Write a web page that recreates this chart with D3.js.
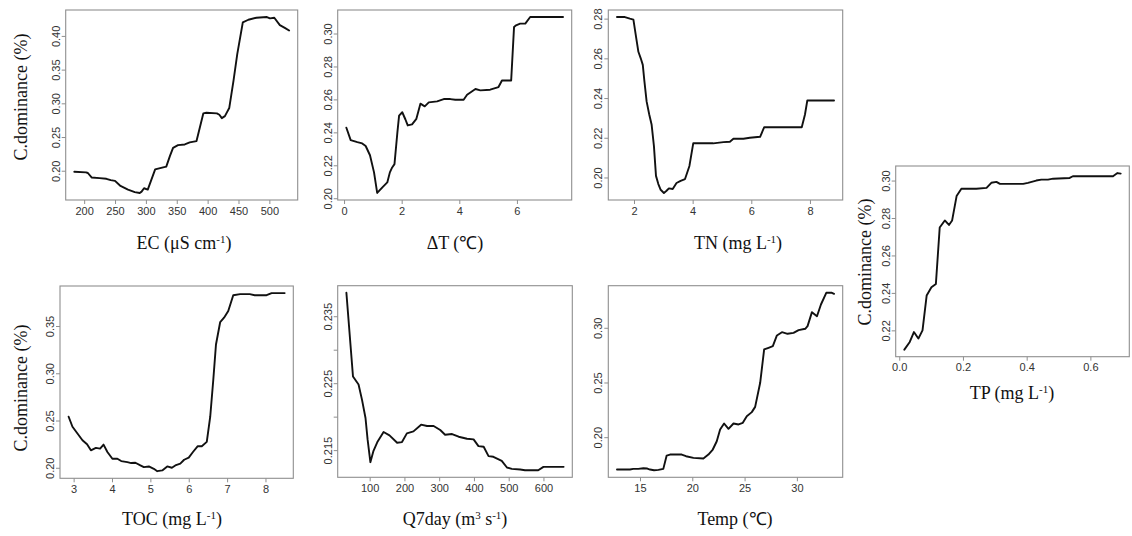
<!DOCTYPE html>
<html>
<head>
<meta charset="utf-8">
<script src="https://cdn.jsdelivr.net/npm/d3@7/dist/d3.min.js"></script>
<style>
  html, body { margin: 0; padding: 0; background: #fff; }
  svg { display: block; }
</style>
</head>
<body>
<svg id="chart" width="1132" height="536"></svg>
<script>
// ---------------- DATA ----------------
const ecX = [184,203,206,212,225,236,243,250,258,271,282,290,293,297,303,315,328,333,339,344,352,363,371,382,393,398,415,419,423,428,435,442,448,457,466,479,496,501,508,517,525,532];
const ecY = [0.1985,0.1976,0.1966,0.190,0.189,0.188,0.186,0.185,0.178,0.172,0.1683,0.167,0.169,0.174,0.172,0.202,0.205,0.206,0.222,0.234,0.238,0.239,0.242,0.244,0.285,0.286,0.285,0.283,0.278,0.281,0.293,0.334,0.373,0.420,0.424,0.427,0.428,0.426,0.427,0.416,0.412,0.408];

const dtX = [0.08,0.23,0.46,0.63,0.75,0.90,1.04,1.15,1.33,1.50,1.59,1.67,1.75,1.85,1.91,2.02,2.13,2.21,2.36,2.51,2.65,2.80,2.94,3.23,3.46,3.69,3.86,4.15,4.27,4.56,4.73,5.07,5.36,5.48,5.80,5.90,5.97,6.11,6.29,6.46,7.60];
const dtY = [0.2428,0.2353,0.2341,0.2333,0.2317,0.2261,0.2157,0.2032,0.2066,0.2096,0.2157,0.2187,0.2207,0.2398,0.2502,0.2522,0.2478,0.2442,0.2448,0.2482,0.2574,0.2558,0.2582,0.2588,0.2602,0.2602,0.2598,0.2598,0.2628,0.2663,0.2655,0.2659,0.2675,0.2715,0.2715,0.304,0.305,0.306,0.306,0.31,0.31];

const tnX = [1.42,1.69,1.86,1.98,2.07,2.15,2.23,2.30,2.35,2.43,2.52,2.60,2.68,2.75,2.83,2.91,3.02,3.11,3.19,3.32,3.45,3.59,3.74,3.89,4.02,4.25,4.70,5.05,5.27,5.39,5.73,5.95,6.30,6.44,6.86,7.72,7.83,7.91,8.23,8.82];
const tnY = [0.2808,0.2808,0.28,0.2795,0.2708,0.2633,0.26,0.2567,0.2492,0.2383,0.2317,0.2267,0.2158,0.2008,0.1967,0.1938,0.1922,0.1933,0.1945,0.1942,0.1972,0.1983,0.1992,0.2058,0.2172,0.2172,0.2172,0.2178,0.2180,0.2195,0.2195,0.22,0.2205,0.2253,0.2253,0.2253,0.2317,0.2388,0.2388,0.2388];

const tocX = [2.87,2.97,3.10,3.23,3.35,3.45,3.58,3.69,3.78,3.88,4.01,4.14,4.24,4.40,4.50,4.61,4.74,4.83,4.96,5.09,5.18,5.31,5.44,5.56,5.65,5.78,5.88,6.00,6.11,6.23,6.34,6.47,6.56,6.64,6.71,6.82,6.92,7.03,7.16,7.34,7.59,7.72,8.03,8.16,8.50];
const tocY = [0.254,0.2434,0.2362,0.2291,0.2249,0.2185,0.221,0.2203,0.2245,0.2167,0.2096,0.2096,0.2071,0.206,0.205,0.2053,0.2025,0.2007,0.2014,0.1989,0.1964,0.1972,0.2014,0.20,0.2025,0.2043,0.2085,0.2107,0.2167,0.2227,0.2227,0.2274,0.254,0.2931,0.3304,0.3542,0.3588,0.3659,0.3826,0.3837,0.3837,0.3826,0.3826,0.3848,0.3848];

const q7X = [33,52,68,78,88,94,102,111,123,140,157,179,193,207,226,248,265,284,303,317,337,356,380,399,413,428,442,456,480,495,509,533,547,562,585,600,658];
const q7Y = [0.2385,0.226,0.2248,0.2225,0.2198,0.2166,0.2132,0.2149,0.2163,0.2177,0.2172,0.2161,0.2162,0.2175,0.2178,0.2188,0.2186,0.2186,0.218,0.2173,0.2174,0.217,0.2167,0.2166,0.2156,0.2155,0.2141,0.214,0.2134,0.2124,0.2122,0.2121,0.212,0.212,0.212,0.2125,0.2125];

const tempX = [12.8,14.04,14.36,14.84,15.32,15.70,15.96,16.34,16.76,17.23,17.55,17.87,18.99,19.40,20.11,21.06,21.54,21.96,22.34,22.66,23.04,23.46,23.94,24.42,24.83,25.21,25.69,26.01,26.49,26.87,27.29,27.70,28.09,28.57,29.11,29.68,30.16,30.80,31.02,31.44,31.92,32.30,32.81,33.35,33.55];
const tempY = [0.1704,0.1704,0.171,0.171,0.1716,0.1713,0.1704,0.1698,0.1701,0.171,0.1832,0.1841,0.1841,0.1826,0.1811,0.1805,0.1841,0.1887,0.1963,0.207,0.2125,0.2076,0.2125,0.2116,0.2131,0.2192,0.2229,0.2277,0.2497,0.2802,0.2817,0.2832,0.293,0.296,0.2945,0.2954,0.2979,0.2991,0.3015,0.3143,0.3106,0.3213,0.332,0.332,0.3311];

const tpX = [0.016,0.033,0.046,0.060,0.073,0.086,0.101,0.115,0.127,0.143,0.156,0.166,0.180,0.195,0.242,0.274,0.289,0.305,0.316,0.389,0.404,0.430,0.446,0.467,0.483,0.535,0.545,0.671,0.685,0.695];
const tpY = [0.2097,0.2138,0.2191,0.2156,0.22,0.2386,0.243,0.2448,0.2749,0.2787,0.2763,0.2787,0.2917,0.2956,0.2956,0.2961,0.2988,0.2993,0.2982,0.2982,0.2988,0.30,0.3005,0.3005,0.301,0.3014,0.3023,0.3023,0.304,0.3037];

// tick values
const ecXTicks = [200,250,300,350,400,450,500];
const ecYTicks = [0.20,0.25,0.30,0.35,0.40];
const dtXTicks = [0,2,4,6];
const dtYTicks = [0.20,0.22,0.24,0.26,0.28,0.30];
const tnXTicks = [2,4,6,8];
const tnYTicks = [0.20,0.22,0.24,0.26,0.28];
const tocXTicks = [3,4,5,6,7,8];
const tocYTicks = [0.20,0.25,0.30,0.35];
const q7XTicks = [100,200,300,400,500,600];
const q7YTicks = [0.215,0.220,0.225,0.230,0.235];
const q7YLabeled = [0.215,0.225,0.235];
const tempXTicks = [15,20,25,30];
const tempYTicks = [0.20,0.25,0.30];
const tpXTicks = [0.0,0.2,0.4,0.6];
const tpYTicks = [0.22,0.24,0.26,0.28,0.30];

// axis titles (main text, superscript pieces)
const yTitle = "C.dominance (%)";
const xTitles = {
  ec:   [["EC (μS cm",""],["-1","sup"],[")",""]],
  dt:   [["ΔT (℃)",""]],
  tn:   [["TN (mg L",""],["-1","sup"],[")",""]],
  toc:  [["TOC (mg L",""],["-1","sup"],[")",""]],
  q7:   [["Q7day (m",""],["3","sup"],[" s",""],["-1","sup"],[")",""]],
  temp: [["Temp (℃)",""]],
  tp:   [["TP (mg L",""],["-1","sup"],[")",""]]
};

// ---------------- LAYOUT ----------------
const panels = [
  {key:"ec",   xs:ecX,  ys:ecY,  xt:ecXTicks,  yt:ecYTicks,  xf:d3.format("d"),   yf:d3.format(".2f"), box:[65.7,10,297.7,200],   xl:[184,249], yl:[26.5,97]},
  {key:"dt",   xs:dtX,  ys:dtY,  xt:dtXTicks,  yt:dtYTicks,  xf:d3.format("d"),   yf:d3.format(".2f"), box:[337.7,10,571.7,200],  xl:[455,249]},
  {key:"tn",   xs:tnX,  ys:tnY,  xt:tnXTicks,  yt:tnYTicks,  xf:d3.format("d"),   yf:d3.format(".2f"), box:[608.3,10,842.7,200],  xl:[738,249]},
  {key:"toc",  xs:tocX, ys:tocY, xt:tocXTicks, yt:tocYTicks, xf:d3.format("d"),   yf:d3.format(".2f"), box:[60,286,293.3,478.3], xl:[172,525], yl:[26.5,388]},
  {key:"q7",   xs:q7X,  ys:q7Y,  xt:q7XTicks,  yt:q7YTicks,  xf:d3.format("d"),   yf:(v)=> q7YLabeled.some(l=>Math.abs(l-v)<1e-9) ? d3.format(".3f")(v) : "", box:[337.7,285.7,572.3,477.3], xl:[455,525]},
  {key:"temp", xs:tempX,ys:tempY,xt:tempXTicks,yt:tempYTicks,xf:d3.format("d"),   yf:d3.format(".2f"), box:[608.3,285.7,842.7,477.3], xl:[735,525]},
  {key:"tp",   xs:tpX,  ys:tpY,  xt:tpXTicks,  yt:tpYTicks,  xf:d3.format(".1f"), yf:d3.format(".2f"), box:[895.7,166,1129.3,356.7], xl:[1012,399], yl:[871,262]}
];

const svg = d3.select("#chart");
const boxColor = "#8f8f8f";
const tickTextColor = "#333";

function padded(arr) {
  const [a, b] = d3.extent(arr);
  const p = (b - a) * 0.04;
  return [a - p, b + p];
}

panels.forEach(P => {
  const [x0, y0, x1, y1] = P.box;
  const xS = d3.scaleLinear().domain(padded(P.xs)).range([x0, x1]);
  const yS = d3.scaleLinear().domain(padded(P.ys)).range([y1, y0]);
  const g = svg.append("g");

  // x axis
  const xa = g.append("g").attr("transform", `translate(0,${y1})`)
    .call(d3.axisBottom(xS).tickValues(P.xt).tickFormat(P.xf).tickSize(4).tickPadding(3));
  xa.select(".domain").remove();
  xa.selectAll(".tick line").attr("stroke", boxColor);
  xa.selectAll(".tick text").attr("fill", tickTextColor)
    .style("font-family", "'Liberation Sans', Arial, sans-serif").style("font-size", "11px");

  // y axis (rotated labels)
  const ya = g.append("g").attr("transform", `translate(${x0},0)`)
    .call(d3.axisLeft(yS).tickValues(P.yt).tickFormat(P.yf).tickSize(4));
  ya.select(".domain").remove();
  ya.selectAll(".tick line").attr("stroke", boxColor);
  ya.selectAll(".tick text")
    .attr("fill", tickTextColor)
    .attr("x", null).attr("dy", null)
    .attr("text-anchor", "middle")
    .attr("transform", "translate(-6,0) rotate(-90)")
    .style("font-family", "'Liberation Sans', Arial, sans-serif").style("font-size", "11px");

  // box
  g.append("rect").attr("x", x0).attr("y", y0).attr("width", x1 - x0).attr("height", y1 - y0)
    .attr("fill", "none").attr("stroke", boxColor).attr("stroke-width", 1.1);

  // line
  const pts = P.xs.map((v, i) => [v, P.ys[i]]);
  g.append("path").datum(pts)
    .attr("fill", "none").attr("stroke", "#111").attr("stroke-width", 1.9)
    .attr("stroke-linejoin", "round").attr("stroke-linecap", "round")
    .attr("d", d3.line().x(d => xS(d[0])).y(d => yS(d[1])));

  // x title
  const t = g.append("text").attr("x", P.xl[0]).attr("y", P.xl[1]).attr("text-anchor", "middle")
    .style("font-family", "'Liberation Serif', 'Times New Roman', serif").style("font-size", "18px").attr("fill", "#111");
  xTitles[P.key].forEach(([s, kind]) => {
    const ts = t.append("tspan").text(s);
    if (kind === "sup") ts.attr("dy", -6).style("font-size", "11px");
    else if (t.selectAll("tspan").size() > 1) {
      // reset baseline after a superscript
      const prev = t.selectAll("tspan").nodes();
      if (prev.length > 1 && d3.select(prev[prev.length - 2]).attr("dy") === "-6") ts.attr("dy", 6);
    }
  });

  // y title
  if (P.yl) {
    g.append("text").attr("transform", `translate(${P.yl[0]},${P.yl[1]}) rotate(-90)`)
      .attr("text-anchor", "middle")
      .style("font-family", "'Liberation Serif', 'Times New Roman', serif").style("font-size", "18px").attr("fill", "#111")
      .text(yTitle);
  }
});
</script>
</body>
</html>
